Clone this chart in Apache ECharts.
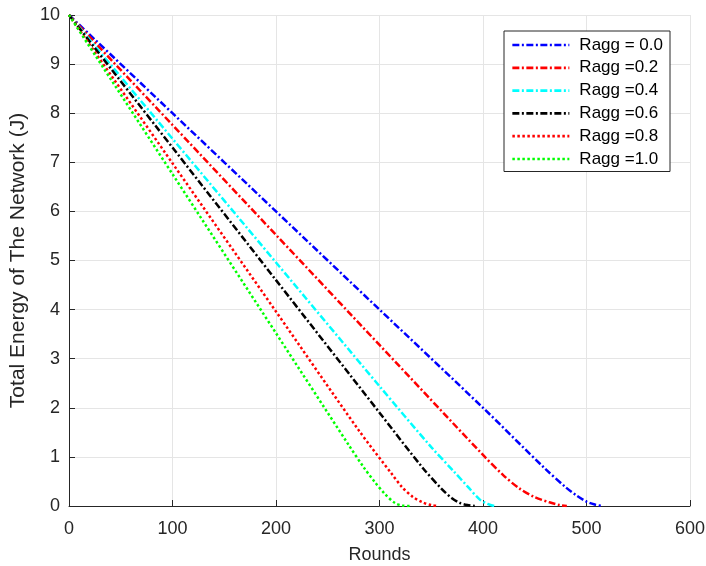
<!DOCTYPE html>
<html>
<head>
<meta charset="utf-8">
<script src="https://cdn.jsdelivr.net/npm/echarts@6/dist/echarts.min.js"></script>
<style>html,body{margin:0;padding:0;background:#fff;}#c{width:706px;height:566px;}</style>
</head>
<body>
<div id="c"></div>
<script>
const seriesNames = ['Ragg = 0.0', 'Ragg =0.2', 'Ragg =0.4', 'Ragg =0.6', 'Ragg =0.8', 'Ragg =1.0'];
const xTicks = [0, 100, 200, 300, 400, 500, 600];
const yTicks = [0, 1, 2, 3, 4, 5, 6, 7, 8, 9, 10];

const ragg00 = [[0,10],[100,8.0],[200,6.0],[300,4.0],[400,2.0],[460,0.76],[480,0.38],[490,0.22],[500,0.09],[508,0.03],[515,0]];
const ragg02 = [[0,10],[100,7.76],[200,5.52],[300,3.28],[400,1.04],[420,0.62],[435,0.36],[450,0.18],[465,0.07],[474,0.02],[481,0]];
const ragg04 = [[0,10],[100,7.48],[200,4.96],[300,2.44],[350,1.2],[372,0.7],[385,0.4],[397,0.13],[405,0.04],[411,0]];
const ragg06 = [[0,10],[100,7.3],[200,4.6],[300,1.9],[342,0.77],[360,0.35],[370,0.16],[378,0.06],[385,0.02],[392,0]];
const ragg08 = [[0,10],[100,6.98],[200,3.96],[280,1.54],[312,0.65],[322,0.38],[332,0.19],[342,0.07],[350,0.02],[357,0]];
const ragg10 = [[0,10],[100,6.76],[200,3.52],[270,1.25],[285,0.78],[295,0.5],[305,0.25],[315,0.06],[322,0.01],[329,0]];

const allData = [ragg00, ragg02, ragg04, ragg06, ragg08, ragg10];
const colors = ['#0000ff', '#ff0000', '#00ffff', '#000000', '#ff0000', '#00ff00'];
const dashDot = [7, 2.5, 2, 2.5];
const dotted = [2.5, 2.5];
const types = [dashDot, dashDot, dashDot, dashDot, dotted, dotted];

const chart = echarts.init(document.getElementById('c'));
const font = 'Liberation Sans, Arial, Helvetica, sans-serif';
chart.setOption({
  animation: false,
  backgroundColor: '#ffffff',
  grid: { left: 69, right: 16, top: 15, bottom: 60, containLabel: false, outerBoundsMode: 'none' },
  legend: {
    orient: 'vertical',
    right: 36,
    top: 31,
    itemWidth: 57,
    itemHeight: 14,
    itemGap: 5.8,
    padding: [5.5, 7, 4, 7],
    borderColor: '#262626',
    borderWidth: 1,
    borderRadius: 0,
    backgroundColor: '#ffffff',
    itemStyle: { opacity: 0 },
    lineStyle: { width: 2.7 },
    textStyle: { fontFamily: font, fontSize: 17, color: '#000', padding: [0, 0, 0, 5] },
    data: seriesNames
  },
  xAxis: {
    type: 'value', min: 0, max: 600, interval: 100,
    name: 'Rounds', nameLocation: 'middle', nameGap: 40,
    nameTextStyle: { fontFamily: font, fontSize: 18, color: '#262626' },
    axisLine: { show: true, onZero: false, lineStyle: { color: '#262626', width: 1 } },
    axisTick: { show: true, inside: true, length: 6, lineStyle: { color: '#262626' } },
    axisLabel: { fontFamily: font, fontSize: 18, color: '#262626', margin: 14 },
    splitLine: { show: true, lineStyle: { color: '#e5e5e5', width: 1 } }
  },
  yAxis: {
    type: 'value', min: 0, max: 10, interval: 1,
    name: 'Total Energy of The Network (J)', nameLocation: 'middle', nameGap: 36,
    nameTextStyle: { fontFamily: font, fontSize: 21, color: '#262626' },
    axisLine: { show: true, onZero: false, lineStyle: { color: '#262626', width: 1 } },
    axisTick: { show: true, inside: true, length: 6, lineStyle: { color: '#262626' } },
    axisLabel: { fontFamily: font, fontSize: 18, color: '#262626', margin: 9 },
    splitLine: { show: true, lineStyle: { color: '#e5e5e5', width: 1 } }
  },
  series: allData.map((d, i) => ({
    name: seriesNames[i],
    type: 'line',
    data: d,
    symbol: 'none',
    smooth: 0.3,
    color: colors[i],
    lineStyle: { color: colors[i], width: 2.5, type: types[i] },
    z: 2 + i
  }))
});
</script>
</body>
</html>
